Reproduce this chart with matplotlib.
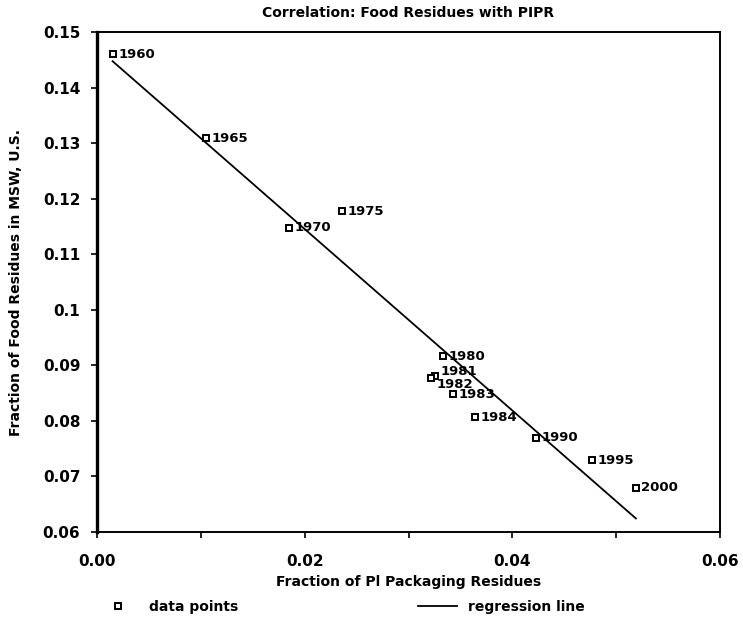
import numpy as np
import matplotlib
matplotlib.use("Agg")
import matplotlib.pyplot as plt
from matplotlib.lines import Line2D

years = ['1960', '1965', '1970', '1975', '1980', '1981', '1982', '1983', '1984', '1990', '1995', '2000']
pipr = [0.0015, 0.0105, 0.0185, 0.0236, 0.0333, 0.0326, 0.0322, 0.0343, 0.0364, 0.0423, 0.0477, 0.0519]
food = [0.1460, 0.1309, 0.1148, 0.1177, 0.0916, 0.0880, 0.0878, 0.0848, 0.0807, 0.0770, 0.0729, 0.0680]

# regression line
reg_intercept = 0.1472
reg_slope = -1.633

xticks = [0.00, 0.02, 0.04, 0.06]
yticks = [0.06, 0.07, 0.08, 0.09, 0.10, 0.11, 0.12, 0.13, 0.14, 0.15]
ytick_labels = ['0.06', '0.07', '0.08', '0.09', '0.1', '0.11', '0.12', '0.13', '0.14', '0.15']

plt.rcParams['font.family'] = ['DejaVu Sans']
plt.rcParams['font.weight'] = 'bold'

fig = plt.figure(figsize=(7.43, 6.19), dpi=100)
ax = fig.add_axes([0.1306, 0.1405, 0.8384, 0.8077])

x = np.array(pipr)
xs = np.sort(x)
ax.plot(xs, reg_intercept + reg_slope * xs, color='black', lw=1.3)

ax.plot(pipr, food, linestyle='none', marker='s', markersize=5,
        markerfacecolor='white', markeredgecolor='black', markeredgewidth=1.4)

# the 1981 / 1982 labels sit on top of each other in the original
label_dy = {'1981': 3.5, '1982': -5}
for yr, px, py in zip(years, pipr, food):
    ax.annotate(yr, (px, py), xytext=(4, label_dy.get(yr, 0)), textcoords='offset points',
                ha='left', va='center', fontsize=9.5, fontweight='bold')

ax.set_xlim(0.0, 0.06)
ax.set_ylim(0.06, 0.15)
ax.set_xticks(xticks)
ax.set_xticklabels(['%.2f' % v for v in xticks])
ax.set_xticks([0.01, 0.03, 0.05], minor=True)
ax.set_yticks(yticks)
ax.set_yticklabels(ytick_labels)
ax.tick_params(axis='both', which='both', direction='out', length=4, width=1.2,
               labelsize=11)
ax.tick_params(axis='x', pad=12)
ax.tick_params(axis='y', pad=8)

for side in ['top', 'right', 'bottom']:
    ax.spines[side].set_linewidth(1.4)
ax.spines['left'].set_linewidth(2.4)

ax.set_title('Correlation: Food Residues with PIPR', fontsize=10, fontweight='bold', pad=11)
ax.set_ylabel('Fraction of Food Residues in MSW, U.S.', fontsize=10, fontweight='bold', labelpad=14)
ax.set_xlabel('Fraction of Pl Packaging Residues', fontsize=10, fontweight='bold', labelpad=4)

handles = [
    Line2D([], [], linestyle='none', marker='s', markersize=5,
           markerfacecolor='white', markeredgecolor='black', markeredgewidth=1.4),
    Line2D([], [], color='black', lw=1.3),
]
fig.legend(handles, ['data points', 'regression line'], loc='lower center',
           bbox_to_anchor=(0.46, -0.012), ncol=2, frameon=False, fontsize=10,
           columnspacing=13, handlelength=2.8)

fig.savefig('out.png', dpi=100)
